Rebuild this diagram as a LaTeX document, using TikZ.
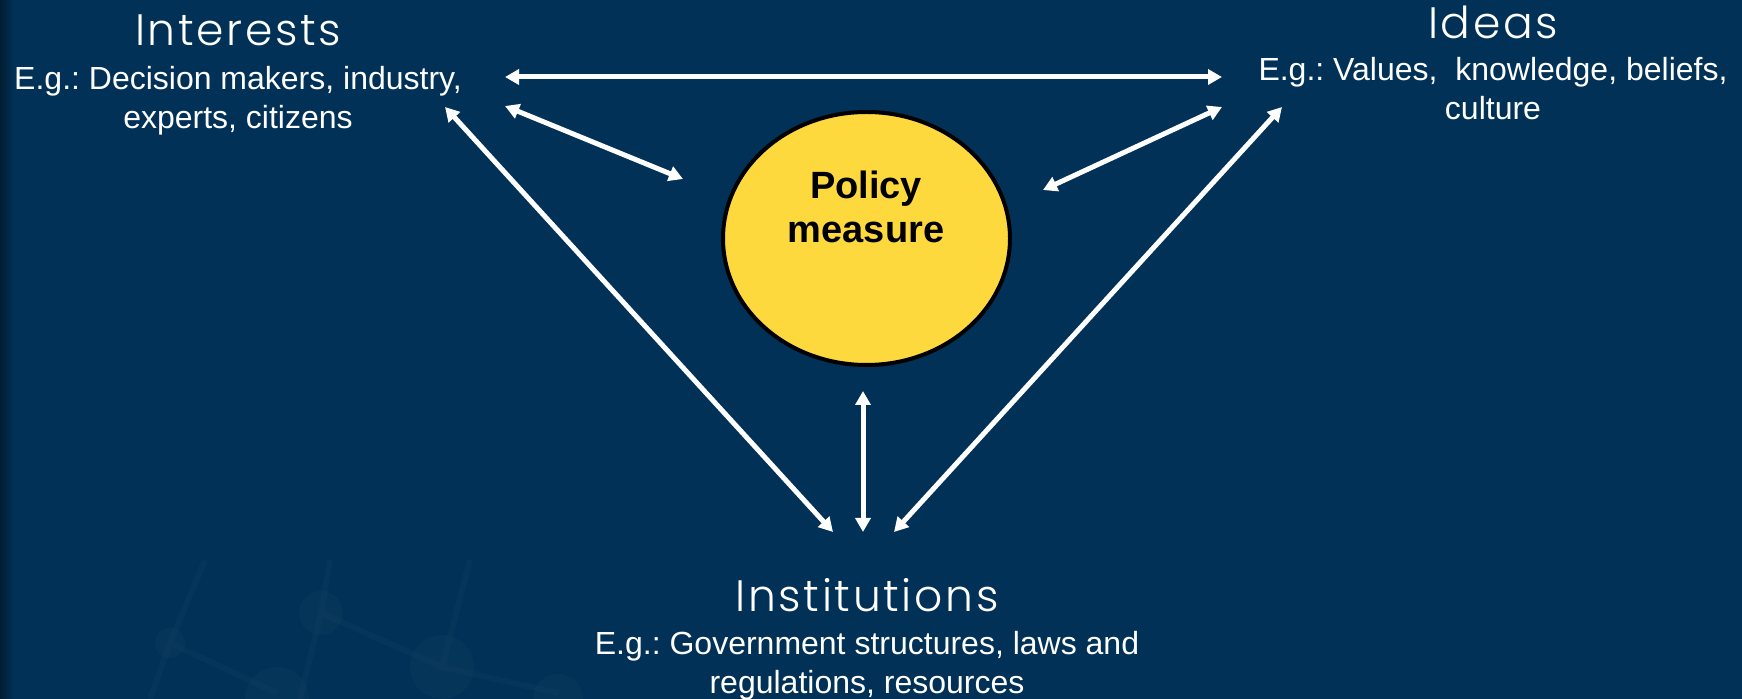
\documentclass[tikz,border=0pt]{standalone}
\usepackage{fontspec}
\setmainfont{Liberation Sans}
\newfontfamily\titlefont{Poppins Light}[LetterSpace=6]
\usetikzlibrary{arrows.meta,shapes.geometric}
\frenchspacing

\begin{document}
\begin{tikzpicture}[x=0.5pt,y=-0.5pt,
        titulo/.style={text=white,font=\titlefont\fontsize{22}{26}\selectfont,inner sep=0pt,anchor=base},
        ejemplo/.style={text=white,font=\fontsize{16}{19.5}\selectfont,align=center,inner sep=0pt,anchor=base},
        flecha/.style={white,line width=2.5pt,{Triangle[length=7pt,width=7.5pt]}-{Triangle[length=7pt,width=7.5pt]}}]
        %colores
        \definecolor{fondo}{RGB}{1,49,86}
        \definecolor{amarillo}{RGB}{254,217,62}

        % Fondo
        \useasboundingbox (0,0) rectangle (1742,699);
        \fill[fondo] (0,0) rectangle (1742,699);
        \shade[left color=fondo!60!black,right color=fondo] (0,0) rectangle (14,699);
        % molecula tenue abajo
        \begin{scope}[white,opacity=0.018,line width=3pt]
            \draw (150,699) -- (170,643) -- (205,560) (170,643) -- (277,693);
            \draw (300,699) -- (321,613) -- (330,560) (321,613) -- (442,667) -- (470,560) (442,667) -- (558,693);
            \fill (170,643) circle (15) (277,699) circle (32) (321,613) circle (22) (442,667) circle (32) (558,699) circle (25);
        \end{scope}

        % Circulo central
        \node[ellipse,draw=black,line width=2pt,fill=amarillo,minimum width=143.5pt,minimum height=126.5pt] (policy) at (866.5,238.5) {};
        \node[font=\bfseries\fontsize{19}{22}\selectfont,align=center,inner sep=0pt,anchor=base] (policy text) at (866,243) {Policy\\measure};

        % Titulos y ejemplos
        \node[titulo] (interests) at (238,46) {Interests};
        \node[ejemplo] (interests ex) at (238,129) {E.g.: Decision makers, industry,\\experts, citizens};
        \node[titulo] (ideas) at (1493,39) {Ideas};
        \node[ejemplo] (ideas ex) at (1493,120) {E.g.: Values,\ \ knowledge, beliefs,\\culture};
        \node[titulo] (institutions) at (867,612) {Institutions};
        \node[ejemplo] (institutions ex) at (867,694) {E.g.: Government structures, laws and\\regulations, resources};

        % extremos de las flechas
        \coordinate (int-e) at (505,77);
        \coordinate (int-se) at (505,106);
        \coordinate (int-s) at (445,107);
        \coordinate (ide-w) at (1222,77);
        \coordinate (ide-sw) at (1222,107);
        \coordinate (ide-s) at (1282,107);
        \coordinate (pol-nw) at (683,179);
        \coordinate (pol-ne) at (1043,190);
        \coordinate (pol-s) at (863,391);
        \coordinate (ins-nw) at (833,532);
        \coordinate (ins-n) at (863,532);
        \coordinate (ins-ne) at (894,532);

        % Flechas
        \draw[flecha] (int-e) -- (ide-w);
        \draw[flecha] (int-se) -- (pol-nw);
        \draw[flecha] (ide-sw) -- (pol-ne);
        \draw[flecha] (int-s) -- (ins-nw);
        \draw[flecha] (ide-s) -- (ins-ne);
        \draw[flecha] (pol-s) -- (ins-n);
    \end{tikzpicture}
\end{document}
